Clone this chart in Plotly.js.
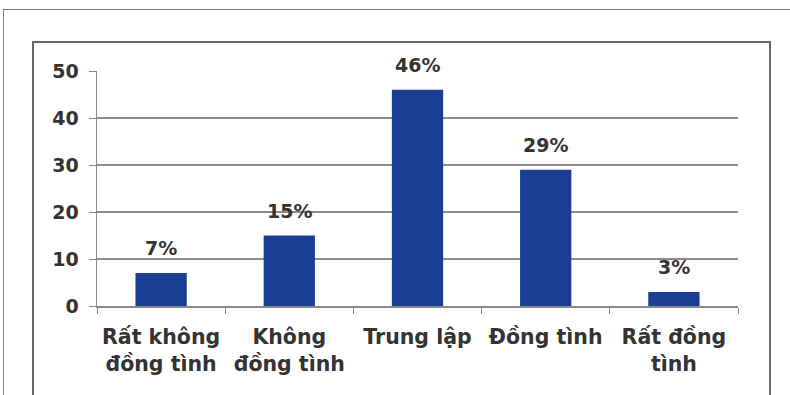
<!DOCTYPE html>
<html><head><meta charset="utf-8">
<script src="https://cdn.plot.ly/plotly-3.0.1.min.js"></script>
<style>
html,body{margin:0;padding:0;background:#fff;}
#wrap{position:relative;width:790px;height:395px;overflow:hidden;}
#outer{position:absolute;left:3px;top:9px;width:800px;height:400px;border-top:1.5px solid #777;border-left:1.5px solid #888;}
#inner{position:absolute;left:32px;top:41px;width:735px;height:400px;border:2px solid #666;}
#chart{position:absolute;left:0;top:0;width:790px;height:395px;}
</style></head>
<body><div id="wrap"><div id="outer"></div><div id="inner"></div><div id="chart"></div></div>
<script>
const categories = ["Rất không<br>đồng tình", "Không<br>đồng tình", "Trung lập", "Đồng tình", "Rất đồng<br>tình"];
const values = [7, 15, 46, 29, 3];
const labels = ["7%", "15%", "46%", "29%", "3%"];
const yTicks = [0, 10, 20, 30, 40, 50];

const font = "DejaVu Sans, Verdana, sans-serif";
const trace = {
  type: "bar", x: categories, y: values, width: 0.4,
  marker: {color: "#1b3d92"}, hoverinfo: "none"
};
const annotations = categories.map((c, i) => ({
  x: c, y: values[i], text: "<b>" + labels[i] + "</b>", showarrow: false,
  yanchor: "bottom", yshift: 12, font: {family: font, size: 19, color: "#333333"}
}));
const layout = {
  width: 790, height: 395,
  margin: {l: 97, r: 52, t: 71, b: 89},
  paper_bgcolor: "rgba(0,0,0,0)", plot_bgcolor: "rgba(0,0,0,0)",
  showlegend: false,
  xaxis: {
    type: "category", tickson: "boundaries", ticks: "outside", ticklen: 6, tickcolor: "#888",
    showline: true, linecolor: "#888", linewidth: 1.5, showgrid: false, tickangle: 0,
    tickfont: {family: font, size: 20.5, color: "#333333", weight: "bold"},
    ticklabelstandoff: 12
  },
  yaxis: {
    range: [0, 50], tickvals: yTicks, ticks: "outside", ticklen: 7, tickcolor: "#888",
    showline: true, linecolor: "#888", linewidth: 1.5,
    gridcolor: "#8c8c8c", gridwidth: 1.2, zeroline: false,
    tickfont: {family: font, size: 19, color: "#333333", weight: "bold"},
    ticklabelstandoff: 6
  },
  annotations: annotations
};
Plotly.newPlot("chart", [trace], layout, {staticPlot: true});
</script></body></html>
